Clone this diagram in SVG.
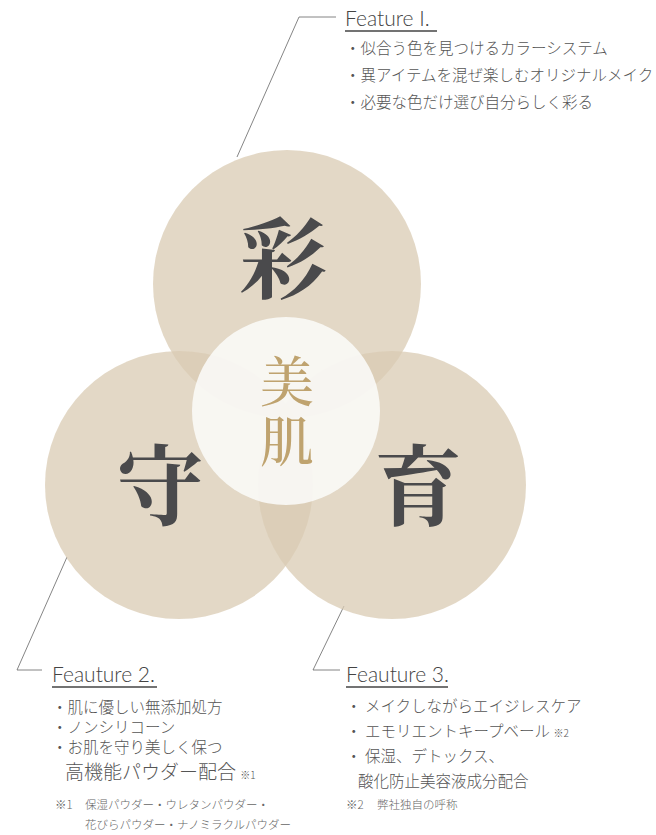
<svg xmlns="http://www.w3.org/2000/svg" width="656" height="835" viewBox="0 0 656 835">
<style>
.c{fill:#dacbb3;fill-opacity:0.75}
.mid{fill:#fbfaf8;fill-opacity:0.88}
.k{font-family:"Noto Serif CJK JP","Noto Sans CJK JP",serif;font-weight:700;fill:#4a4a4c;text-anchor:middle;font-size:88px}
.g{font-family:"Noto Serif CJK JP","Noto Sans CJK JP",serif;font-weight:500;fill:#bfa36f;text-anchor:middle;font-size:54px}
.h{font-family:"Lato","Noto Sans",sans-serif;font-weight:300;font-size:21px;fill:#444}
.t{font-family:"Noto Sans CJK JP",sans-serif;font-weight:300;font-size:15.5px;fill:#555}
.big{font-size:19px}
.s{font-family:"Noto Sans CJK JP",sans-serif;font-weight:300;font-size:11.5px;fill:#666}
.ln{stroke:#666;stroke-width:0.8;fill:none}
.ul{stroke:#444;stroke-width:1.5}
</style>
<g id="connectors">
<polyline class="ln" points="237,157 299,17 336,17"/>
<polyline class="ln" points="67,557 17,670 42,670"/>
<polyline class="ln" points="344,606 313,670 340,670"/>
</g>
<g id="circle-sai"><circle class="c" cx="287" cy="284" r="134"/></g>
<g id="circle-mamoru"><circle class="c" cx="179" cy="485" r="134"/></g>
<g id="circle-iku"><circle class="c" cx="392" cy="485" r="134"/></g>
<g id="circle-center"><circle class="mid" cx="286" cy="411" r="94"/></g>
<g id="labels">
<text class="k" x="283" y="291">彩</text>
<text class="k" x="160" y="518">守</text>
<text class="k" x="418" y="518">育</text>
<text class="g" x="287" y="402">美<tspan x="287" dy="60">肌</tspan></text>
</g>
<g id="feature1">
<text class="h" x="345" y="26">Feature I.</text>
<line class="ul" x1="345" y1="31" x2="437" y2="31"/>
<text class="t" x="345" y="54">・似合う色を見つけるカラーシステム</text>
<text class="t" x="345" y="81">・異アイテムを混ぜ楽しむオリジナルメイク</text>
<text class="t" x="345" y="108">・必要な色だけ選び自分らしく彩る</text>
</g>
<g id="feature2">
<text class="h" x="52" y="682">Feauture 2.</text>
<line class="ul" x1="52" y1="687" x2="157" y2="687"/>
<text class="t" x="52" y="713">・肌に優しい無添加処方</text>
<text class="t" x="52" y="733">・ノンシリコーン</text>
<text class="t" x="52" y="753">・お肌を守り美しく保つ</text>
<text class="t big" x="65" y="779">高機能パウダー配合 <tspan font-size="10">※1</tspan></text>
<text class="s" x="55" y="809">※1 <tspan x="85">保湿パウダー・ウレタンパウダー・</tspan></text>
<text class="s" x="85" y="829">花びらパウダー・ナノミラクルパウダー</text>
</g>
<g id="feature3">
<text class="h" x="346" y="682">Feauture 3.</text>
<line class="ul" x1="346" y1="687" x2="448" y2="687"/>
<text class="t" x="346" y="712">・ メイクしながらエイジレスケア</text>
<text class="t" x="346" y="737">・ エモリエントキープベール <tspan font-size="10">※2</tspan></text>
<text class="t" x="346" y="762">・ 保湿、デトックス、</text>
<text class="t" x="358" y="787">酸化防止美容液成分配合</text>
<text class="s" x="346" y="809">※2 <tspan x="377">弊社独自の呼称</tspan></text>
</g>
</svg>
